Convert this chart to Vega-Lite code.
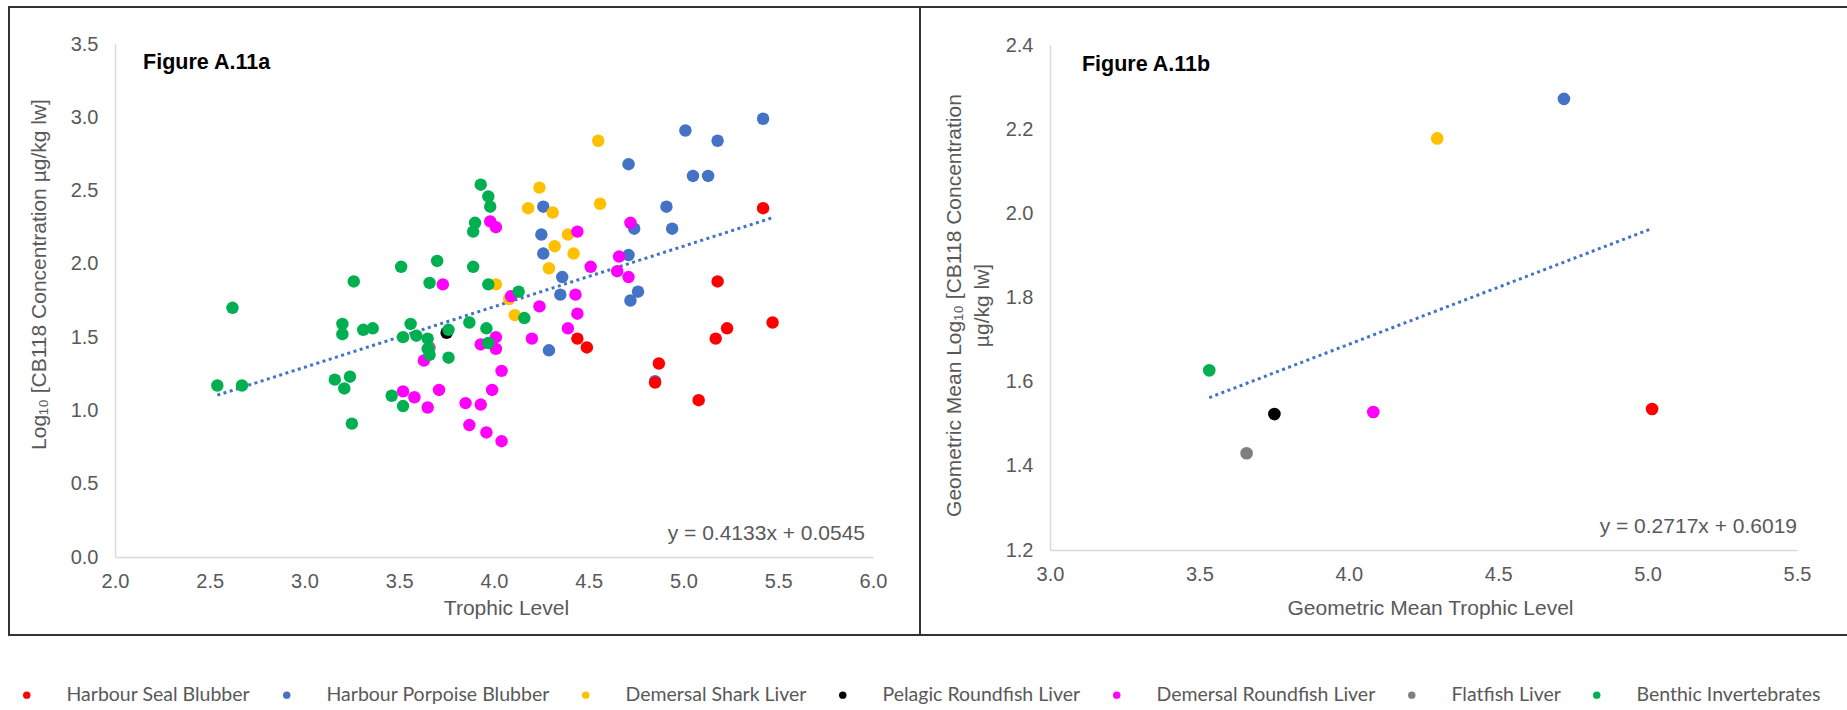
{
  "$schema": "https://vega.github.io/schema/vega-lite/v6.json",
  "background": "white",
  "padding": {"left": 8, "top": 6, "right": 0, "bottom": 0},
  "spacing": 0,
  "bounds": "flush",
  "config": {
    "view": {"stroke": "#333333", "strokeWidth": 2},
    "axis": {
      "ticks": false, "tickSize": 0, "grid": false,
      "domainColor": "#D9D9D9", "domainWidth": 1.5,
      "labelFont": "Liberation Sans", "labelFontSize": 20, "labelColor": "#595959",
      "titleFont": "Liberation Sans", "titleFontSize": 21, "titleColor": "#595959", "titleFontWeight": "normal",
      "labelFlush": false, "labelOverlap": false,
      "titleBaseline": "middle", "titleAlign": "center"
    },
    "legend": {
      "orient": "none", "direction": "horizontal", "columns": 7,
      "symbolType": "circle", "symbolSize": 55, "symbolStrokeWidth": 0,
      "labelFont": "Lato", "labelFontSize": 19.5, "labelColor": "#595959",
      "labelOffset": 30, "columnPadding": 26, "labelLimit": 0
    }
  },
  "datasets": {
    "a": [
      {"group": "Harbour Porpoise Blubber", "tl": 5.42, "conc": 2.99},
      {"group": "Harbour Porpoise Blubber", "tl": 5.01, "conc": 2.91},
      {"group": "Harbour Porpoise Blubber", "tl": 5.18, "conc": 2.84},
      {"group": "Harbour Porpoise Blubber", "tl": 4.71, "conc": 2.68},
      {"group": "Harbour Porpoise Blubber", "tl": 5.05, "conc": 2.60},
      {"group": "Harbour Porpoise Blubber", "tl": 5.13, "conc": 2.60},
      {"group": "Harbour Porpoise Blubber", "tl": 4.91, "conc": 2.39},
      {"group": "Harbour Porpoise Blubber", "tl": 4.94, "conc": 2.24},
      {"group": "Harbour Porpoise Blubber", "tl": 4.74, "conc": 2.24},
      {"group": "Harbour Porpoise Blubber", "tl": 4.26, "conc": 2.39},
      {"group": "Harbour Porpoise Blubber", "tl": 4.25, "conc": 2.20},
      {"group": "Harbour Porpoise Blubber", "tl": 4.26, "conc": 2.07},
      {"group": "Harbour Porpoise Blubber", "tl": 4.71, "conc": 2.06},
      {"group": "Harbour Porpoise Blubber", "tl": 4.36, "conc": 1.91},
      {"group": "Harbour Porpoise Blubber", "tl": 4.35, "conc": 1.79},
      {"group": "Harbour Porpoise Blubber", "tl": 4.76, "conc": 1.81},
      {"group": "Harbour Porpoise Blubber", "tl": 4.72, "conc": 1.75},
      {"group": "Harbour Porpoise Blubber", "tl": 4.29, "conc": 1.41},
      {"group": "Harbour Porpoise Blubber", "tl": 4.85, "conc": 1.20},
      {"group": "Demersal Shark Liver", "tl": 4.55, "conc": 2.84},
      {"group": "Demersal Shark Liver", "tl": 4.24, "conc": 2.52},
      {"group": "Demersal Shark Liver", "tl": 4.18, "conc": 2.38},
      {"group": "Demersal Shark Liver", "tl": 4.31, "conc": 2.35},
      {"group": "Demersal Shark Liver", "tl": 4.56, "conc": 2.41},
      {"group": "Demersal Shark Liver", "tl": 4.39, "conc": 2.20},
      {"group": "Demersal Shark Liver", "tl": 4.32, "conc": 2.12},
      {"group": "Demersal Shark Liver", "tl": 4.42, "conc": 2.07},
      {"group": "Demersal Shark Liver", "tl": 4.29, "conc": 1.97},
      {"group": "Demersal Shark Liver", "tl": 4.01, "conc": 1.86},
      {"group": "Demersal Shark Liver", "tl": 4.08, "conc": 1.76},
      {"group": "Demersal Shark Liver", "tl": 4.11, "conc": 1.65},
      {"group": "Pelagic Roundfish Liver", "tl": 3.75, "conc": 1.53},
      {"group": "Demersal Roundfish Liver", "tl": 3.73, "conc": 1.86},
      {"group": "Demersal Roundfish Liver", "tl": 3.63, "conc": 1.34},
      {"group": "Demersal Roundfish Liver", "tl": 3.52, "conc": 1.13},
      {"group": "Demersal Roundfish Liver", "tl": 3.58, "conc": 1.09},
      {"group": "Demersal Roundfish Liver", "tl": 3.65, "conc": 1.02},
      {"group": "Demersal Roundfish Liver", "tl": 3.71, "conc": 1.14},
      {"group": "Demersal Roundfish Liver", "tl": 3.85, "conc": 1.05},
      {"group": "Demersal Roundfish Liver", "tl": 3.87, "conc": 0.90},
      {"group": "Demersal Roundfish Liver", "tl": 3.93, "conc": 1.04},
      {"group": "Demersal Roundfish Liver", "tl": 3.96, "conc": 0.85},
      {"group": "Demersal Roundfish Liver", "tl": 3.99, "conc": 1.14},
      {"group": "Demersal Roundfish Liver", "tl": 4.04, "conc": 0.79},
      {"group": "Demersal Roundfish Liver", "tl": 4.04, "conc": 1.27},
      {"group": "Demersal Roundfish Liver", "tl": 3.93, "conc": 1.45},
      {"group": "Demersal Roundfish Liver", "tl": 4.01, "conc": 1.50},
      {"group": "Demersal Roundfish Liver", "tl": 4.01, "conc": 1.42},
      {"group": "Demersal Roundfish Liver", "tl": 3.98, "conc": 2.29},
      {"group": "Demersal Roundfish Liver", "tl": 4.01, "conc": 2.25},
      {"group": "Demersal Roundfish Liver", "tl": 4.09, "conc": 1.78},
      {"group": "Demersal Roundfish Liver", "tl": 4.20, "conc": 1.49},
      {"group": "Demersal Roundfish Liver", "tl": 4.24, "conc": 1.71},
      {"group": "Demersal Roundfish Liver", "tl": 4.39, "conc": 1.56},
      {"group": "Demersal Roundfish Liver", "tl": 4.43, "conc": 1.79},
      {"group": "Demersal Roundfish Liver", "tl": 4.44, "conc": 1.66},
      {"group": "Demersal Roundfish Liver", "tl": 4.44, "conc": 2.22},
      {"group": "Demersal Roundfish Liver", "tl": 4.51, "conc": 1.98},
      {"group": "Demersal Roundfish Liver", "tl": 4.65, "conc": 1.95},
      {"group": "Demersal Roundfish Liver", "tl": 4.66, "conc": 2.05},
      {"group": "Demersal Roundfish Liver", "tl": 4.71, "conc": 1.91},
      {"group": "Demersal Roundfish Liver", "tl": 4.72, "conc": 2.28},
      {"group": "Flatfish Liver", "tl": 3.66, "conc": 1.43},
      {"group": "Benthic Invertebrates", "tl": 2.54, "conc": 1.17},
      {"group": "Benthic Invertebrates", "tl": 2.62, "conc": 1.70},
      {"group": "Benthic Invertebrates", "tl": 2.67, "conc": 1.17},
      {"group": "Benthic Invertebrates", "tl": 3.16, "conc": 1.21},
      {"group": "Benthic Invertebrates", "tl": 3.20, "conc": 1.59},
      {"group": "Benthic Invertebrates", "tl": 3.20, "conc": 1.52},
      {"group": "Benthic Invertebrates", "tl": 3.21, "conc": 1.15},
      {"group": "Benthic Invertebrates", "tl": 3.24, "conc": 1.23},
      {"group": "Benthic Invertebrates", "tl": 3.25, "conc": 0.91},
      {"group": "Benthic Invertebrates", "tl": 3.26, "conc": 1.88},
      {"group": "Benthic Invertebrates", "tl": 3.31, "conc": 1.55},
      {"group": "Benthic Invertebrates", "tl": 3.36, "conc": 1.56},
      {"group": "Benthic Invertebrates", "tl": 3.46, "conc": 1.10},
      {"group": "Benthic Invertebrates", "tl": 3.51, "conc": 1.98},
      {"group": "Benthic Invertebrates", "tl": 3.52, "conc": 1.50},
      {"group": "Benthic Invertebrates", "tl": 3.52, "conc": 1.03},
      {"group": "Benthic Invertebrates", "tl": 3.56, "conc": 1.59},
      {"group": "Benthic Invertebrates", "tl": 3.59, "conc": 1.51},
      {"group": "Benthic Invertebrates", "tl": 3.65, "conc": 1.49},
      {"group": "Benthic Invertebrates", "tl": 3.65, "conc": 1.42},
      {"group": "Benthic Invertebrates", "tl": 3.66, "conc": 1.38},
      {"group": "Benthic Invertebrates", "tl": 3.66, "conc": 1.87},
      {"group": "Benthic Invertebrates", "tl": 3.70, "conc": 2.02},
      {"group": "Benthic Invertebrates", "tl": 3.76, "conc": 1.36},
      {"group": "Benthic Invertebrates", "tl": 3.76, "conc": 1.55},
      {"group": "Benthic Invertebrates", "tl": 3.87, "conc": 1.60},
      {"group": "Benthic Invertebrates", "tl": 3.89, "conc": 2.22},
      {"group": "Benthic Invertebrates", "tl": 3.90, "conc": 2.28},
      {"group": "Benthic Invertebrates", "tl": 3.89, "conc": 1.98},
      {"group": "Benthic Invertebrates", "tl": 3.93, "conc": 2.54},
      {"group": "Benthic Invertebrates", "tl": 3.97, "conc": 2.46},
      {"group": "Benthic Invertebrates", "tl": 3.98, "conc": 2.39},
      {"group": "Benthic Invertebrates", "tl": 3.97, "conc": 1.86},
      {"group": "Benthic Invertebrates", "tl": 3.96, "conc": 1.56},
      {"group": "Benthic Invertebrates", "tl": 3.97, "conc": 1.46},
      {"group": "Benthic Invertebrates", "tl": 4.13, "conc": 1.81},
      {"group": "Benthic Invertebrates", "tl": 4.16, "conc": 1.63},
      {"group": "Harbour Seal Blubber", "tl": 5.42, "conc": 2.38},
      {"group": "Harbour Seal Blubber", "tl": 5.18, "conc": 1.88},
      {"group": "Harbour Seal Blubber", "tl": 5.47, "conc": 1.60},
      {"group": "Harbour Seal Blubber", "tl": 5.23, "conc": 1.56},
      {"group": "Harbour Seal Blubber", "tl": 5.17, "conc": 1.49},
      {"group": "Harbour Seal Blubber", "tl": 4.44, "conc": 1.49},
      {"group": "Harbour Seal Blubber", "tl": 4.49, "conc": 1.43},
      {"group": "Harbour Seal Blubber", "tl": 4.87, "conc": 1.32},
      {"group": "Harbour Seal Blubber", "tl": 4.85, "conc": 1.19},
      {"group": "Harbour Seal Blubber", "tl": 5.08, "conc": 1.07}
    ],
    "b": [
      {"group": "Harbour Porpoise Blubber", "tl": 4.72, "conc": 2.272},
      {"group": "Demersal Shark Liver", "tl": 4.296, "conc": 2.178},
      {"group": "Pelagic Roundfish Liver", "tl": 3.751, "conc": 1.523},
      {"group": "Demersal Roundfish Liver", "tl": 4.082, "conc": 1.528},
      {"group": "Flatfish Liver", "tl": 3.658, "conc": 1.430},
      {"group": "Benthic Invertebrates", "tl": 3.533, "conc": 1.627},
      {"group": "Harbour Seal Blubber", "tl": 5.015, "conc": 1.535}
    ],
    "fitA": [
      {"tl": 2.54, "conc": 1.104},
      {"tl": 5.47, "conc": 2.315}
    ],
    "fitB": [
      {"tl": 3.533, "conc": 1.562},
      {"tl": 5.015, "conc": 1.964}
    ],
    "one": [{"k": 1}]
  },
  "hconcat": [
    {
      "width": 911,
      "height": 628,
      "layer": [
        {
          "data": {"name": "fitA"},
          "mark": {"type": "line", "color": "#4472C4", "strokeWidth": 3, "strokeDash": [3, 3.5]},
          "encoding": {
            "x": {"field": "tl", "type": "quantitative", "title": "Trophic Level"},
            "y": {"field": "conc", "type": "quantitative", "title": "Log₁₀ [CB118 Concentration µg/kg lw]"}
          }
        },
        {
          "data": {"name": "a"},
          "mark": {"type": "circle", "size": 155, "opacity": 1},
          "encoding": {
            "x": {
              "field": "tl", "type": "quantitative", "title": "Trophic Level",
              "scale": {"domain": [2, 6], "range": [106, 864], "nice": false, "zero": false},
              "axis": {"values": [2, 2.5, 3, 3.5, 4, 4.5, 5, 5.5, 6], "format": ".1f", "offset": -78, "labelPadding": 14, "titleX": 497, "titleY": 51}
            },
            "y": {
              "field": "conc", "type": "quantitative", "title": "Log₁₀ [CB118 Concentration µg/kg lw]",
              "scale": {"domain": [0, 3.5], "range": [550, 37], "nice": false, "zero": false},
              "axis": {"values": [0, 0.5, 1, 1.5, 2, 2.5, 3, 3.5], "format": ".1f", "offset": -106, "labelPadding": 17, "titleX": -76, "titleY": 267}
            },
            "color": {
              "field": "group", "type": "nominal",
              "scale": {
                "domain": ["Harbour Seal Blubber", "Harbour Porpoise Blubber", "Demersal Shark Liver", "Pelagic Roundfish Liver", "Demersal Roundfish Liver", "Flatfish Liver", "Benthic Invertebrates"],
                "range": ["#FF0000", "#4472C4", "#FFC000", "#000000", "#FF00FF", "#7F7F7F", "#00B050"]
              },
              "legend": {"title": null, "legendX": 8, "legendY": 678}
            }
          }
        },
        {
          "data": {"name": "one"},
          "mark": {"type": "text", "align": "right", "baseline": "middle", "font": "Liberation Sans", "fontSize": 21, "color": "#595959"},
          "encoding": {
            "x": {"datum": 5.958, "type": "quantitative"},
            "y": {"datum": 0.157, "type": "quantitative"},
            "text": {"value": "y = 0.4133x + 0.0545"}
          }
        },
        {
          "data": {"name": "one"},
          "mark": {"type": "text", "align": "left", "baseline": "middle", "font": "Liberation Sans", "fontSize": 21.5, "fontWeight": "bold", "color": "#000000"},
          "encoding": {
            "x": {"datum": 2.148, "type": "quantitative"},
            "y": {"datum": 3.37, "type": "quantitative"},
            "text": {"value": "Figure A.11a"}
          }
        }
      ]
    },
    {
      "width": 935,
      "height": 628,
      "layer": [
        {
          "data": {"name": "fitB"},
          "mark": {"type": "line", "color": "#4472C4", "strokeWidth": 3, "strokeDash": [3, 3.5]},
          "encoding": {
            "x": {"field": "tl", "type": "quantitative", "title": "Geometric Mean Trophic Level"},
            "y": {"field": "conc", "type": "quantitative", "title": ["Geometric Mean Log₁₀ [CB118 Concentration", "µg/kg lw]"]}
          }
        },
        {
          "data": {"name": "b"},
          "mark": {"type": "circle", "size": 160, "opacity": 1},
          "encoding": {
            "x": {
              "field": "tl", "type": "quantitative", "title": "Geometric Mean Trophic Level",
              "scale": {"domain": [3, 5.5], "range": [130, 877], "nice": false, "zero": false},
              "axis": {"values": [3, 3.5, 4, 4.5, 5, 5.5], "format": ".1f", "offset": -85, "labelPadding": 14, "titleX": 510, "titleY": 58}
            },
            "y": {
              "field": "conc", "type": "quantitative", "title": ["Geometric Mean Log₁₀ [CB118 Concentration", "µg/kg lw]"],
              "scale": {"domain": [1.2, 2.4], "range": [543, 38], "nice": false, "zero": false},
              "axis": {"values": [1.2, 1.4, 1.6, 1.8, 2.0, 2.2, 2.4], "format": ".1f", "offset": -130, "labelPadding": 17, "titleX": -96, "titleY": 298, "titleLineHeight": 28}
            },
            "color": {
              "field": "group", "type": "nominal",
              "legend": {"title": null, "legendX": 8, "legendY": 678}
            }
          }
        },
        {
          "data": {"name": "one"},
          "mark": {"type": "text", "align": "right", "baseline": "middle", "font": "Liberation Sans", "fontSize": 21, "color": "#595959"},
          "encoding": {
            "x": {"datum": 5.5, "type": "quantitative"},
            "y": {"datum": 1.2547, "type": "quantitative"},
            "text": {"value": "y = 0.2717x + 0.6019"}
          }
        },
        {
          "data": {"name": "one"},
          "mark": {"type": "text", "align": "left", "baseline": "middle", "font": "Liberation Sans", "fontSize": 21.5, "fontWeight": "bold", "color": "#000000"},
          "encoding": {
            "x": {"datum": 3.107, "type": "quantitative"},
            "y": {"datum": 2.3526, "type": "quantitative"},
            "text": {"value": "Figure A.11b"}
          }
        }
      ]
    }
  ]
}
